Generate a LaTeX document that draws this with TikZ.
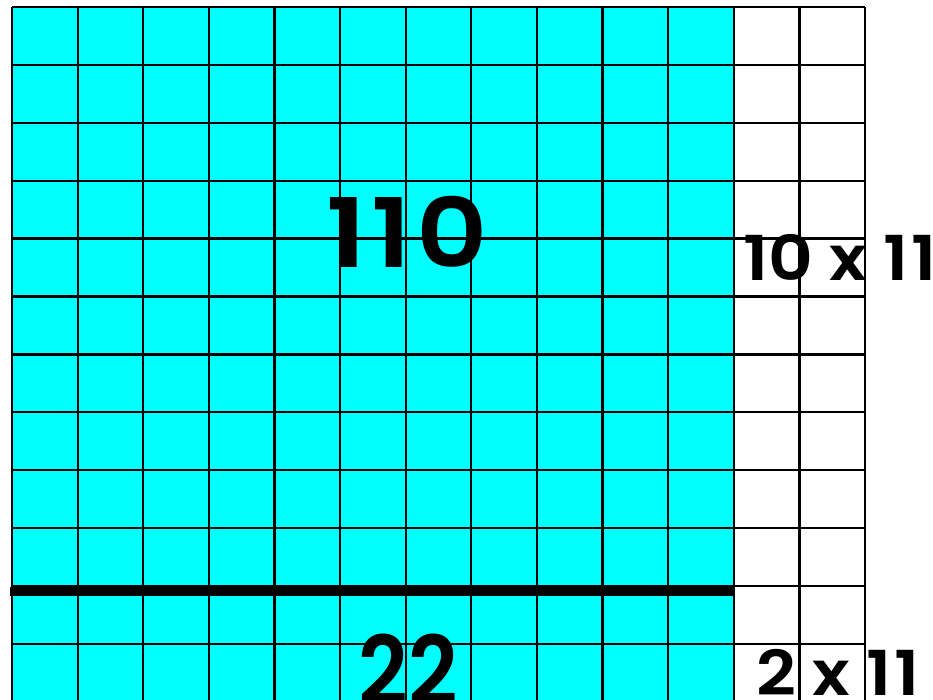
\documentclass[tikz,border=0pt]{standalone}
\usepackage{fontspec}
\setmainfont{Poppins}[BoldFont={Poppins SemiBold}]
\definecolor{aqua}{RGB}{0,255,255}
\begin{document}
\begin{tikzpicture}[x=1pt,y=-1pt,
  gridline/.style={line width=2.2pt,black},
  bigtxt/.style={font=\fontsize{96}{96}\selectfont\bfseries,inner sep=0pt,anchor=base},
  lbltxt/.style={font=\fontsize{62}{62}\selectfont\bfseries,inner sep=0pt,anchor=base west,xscale=1.12}]
\useasboundingbox (0,0) rectangle (933,700);
\clip (0,0) rectangle (933,700);
\fill[aqua] (12,7) rectangle (734,710);
\foreach \i in {0,...,13} {
  \draw[gridline] ({12+\i*65.62},7) -- ({12+\i*65.62},710);
}
\foreach \j in {0,...,12} {
  \draw[gridline] (12,{7+\j*57.9}) -- (865,{7+\j*57.9});
}
\draw[line width=9pt] (10,591) -- (735,591);
\node[bigtxt,xscale=1.15] (a) at (407,268) {1\hspace{5pt}1\hspace{4pt}0};
\node[bigtxt,xscale=0.9] (b) at (408,705) {22};
\node[lbltxt] (c) at (743,280) {10 x 1\hspace{2pt}1};
\node[lbltxt] (d) at (756,695) {2 x 1\hspace{2pt}1};
\end{tikzpicture}
\end{document}
